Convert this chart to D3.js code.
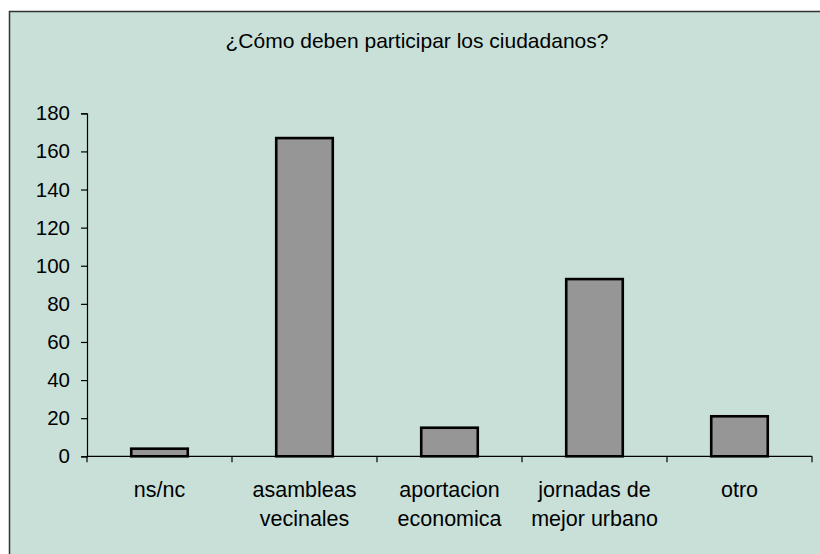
<!DOCTYPE html>
<html>
<head>
<meta charset="utf-8">
<script src="https://cdn.jsdelivr.net/npm/d3@7"></script>
<style>
	body { margin: 0; background: #fff; }
	svg text { font-family: Arial, "Liberation Sans", sans-serif; fill: #000; }
</style>
</head>
<body>
<div id="chart"></div>
<script>
var title = "¿Cómo deben participar los ciudadanos?";
var categories = ["ns/nc", "asambleas\nvecinales", "aportacion\neconomica", "jornadas de\nmejor urbano", "otro"];
var values = [4, 167, 15, 93, 21];
var yTicks = [0, 20, 40, 60, 80, 100, 120, 140, 160, 180];

var width = 820, height = 554;
var margin = {top: 113.3, right: 8, bottom: 97.7, left: 87};

var svg = d3.select("#chart").append("svg")
	.attr("width", width)
	.attr("height", height);

// chart area background + border (runs past the right and bottom edge)
svg.append("rect")
	.attr("x", 9.5)
	.attr("y", 11.5)
	.attr("width", width + 20)
	.attr("height", height + 20)
	.attr("fill", "#c8e0d8")
	.attr("stroke", "#333")
	.attr("stroke-width", 1.5);

svg.append("text")
	.attr("x", 417)
	.attr("y", 48)
	.attr("text-anchor", "middle")
	.style("font-size", "21px")
	.text(title);

var x = d3.scaleBand()
	.domain(categories)
	.range([margin.left, width - margin.right])
	.paddingInner(0.61)
	.paddingOuter(0.305);

var y = d3.scaleLinear()
	.domain([0, 180])
	.range([height - margin.bottom, margin.top]);

var g = svg.append("g");

// bars
g.selectAll("rect.bar")
	.data(values)
	.enter()
	.append("rect")
		.attr("class", "bar")
		.attr("x", function(d, i) { return x(categories[i]); })
		.attr("y", function(d) { return y(d); })
		.attr("width", x.bandwidth())
		.attr("height", function(d) { return y(0) - y(d); })
		.attr("fill", "#969696")
		.attr("stroke", "#000")
		.attr("stroke-width", 2.6);

// y axis
var yAxis = d3.axisLeft(y)
	.tickValues(yTicks)
	.tickSize(6)
	.tickPadding(11);

var yAxisG = svg.append("g")
	.attr("transform", "translate(" + margin.left + ",0)")
	.call(yAxis);
yAxisG.select(".domain").attr("stroke", "#000").attr("stroke-width", 1.2);
yAxisG.selectAll(".tick line").attr("stroke", "#000").attr("stroke-width", 1.2);
yAxisG.selectAll(".tick text")
	.style("font-size", "20.5px")
	.style("font-family", "Arial, 'Liberation Sans', sans-serif")
	.attr("fill", "#000");

// x axis: ticks at band boundaries
var xBounds = d3.range(categories.length + 1).map(function(i) {
	return margin.left + i * x.step();
});
var xAxisG = svg.append("g");
xAxisG.append("line")
	.attr("x1", margin.left)
	.attr("x2", width - margin.right)
	.attr("y1", y(0))
	.attr("y2", y(0))
	.attr("stroke", "#000")
	.attr("stroke-width", 1.2);
xAxisG.selectAll("line.tick")
	.data(xBounds)
	.enter()
	.append("line")
		.attr("class", "tick")
		.attr("x1", function(d) { return d; })
		.attr("x2", function(d) { return d; })
		.attr("y1", y(0))
		.attr("y2", y(0) + 6)
		.attr("stroke", "#000")
		.attr("stroke-width", 1.2);

var labels = xAxisG.selectAll("text")
	.data(categories)
	.enter()
	.append("text")
		.attr("text-anchor", "middle")
		.style("font-size", "21.5px")
		.attr("transform", function(d) {
			return "translate(" + (x(d) + x.bandwidth() / 2) + "," + 497 + ")";
		});

labels.selectAll("tspan")
	.data(function(d) { return d.split("\n"); })
	.enter()
	.append("tspan")
		.attr("x", 0)
		.attr("y", function(d, i) { return i * 29; })
		.text(function(d) { return d; });
</script>
</body>
</html>
